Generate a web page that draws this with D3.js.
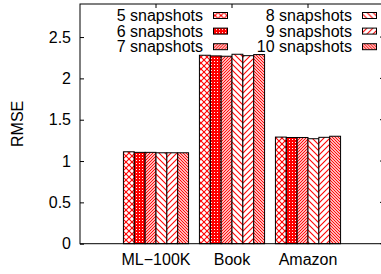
<!DOCTYPE html>
<html>
<head>
<meta charset="utf-8">
<script src="https://cdn.jsdelivr.net/npm/d3@7"></script>
<style>
  body { margin: 0; background: #fff; }
  svg { display: block; font-family: "Liberation Sans", Arial, sans-serif; }
</style>
</head>
<body>
<svg id="chart" width="381" height="274"></svg>
<script>
// data
var categories = ["ML\u2212100K", "Book", "Amazon"];
var seriesNames = ["5 snapshots", "6 snapshots", "7 snapshots", "8 snapshots", "9 snapshots", "10 snapshots"];
var s5  = [1.112, 2.280, 1.290];
var s6  = [1.105, 2.272, 1.285];
var s7  = [1.105, 2.268, 1.285];
var s8  = [1.100, 2.292, 1.270];
var s9  = [1.100, 2.275, 1.287];
var s10 = [1.100, 2.288, 1.300];
var yTicks = [0, 0.5, 1, 1.5, 2, 2.5];

var series = [s5, s6, s7, s8, s9, s10];

var svg = d3.select("#chart"),
	pLeft = 80, pRight = 384, pTop = 4, pBottom = 243.7,
	fontSize = 16;

var x = d3.scaleLinear().domain([-1, 3]).range([pLeft, pRight]);
var y = d3.scaleLinear().domain([0, 2.9]).range([pBottom, pTop]);
var barW = (x(1) - x(0)) / 7;

// fill patterns, gnuplot style
var defs = svg.append("defs");
function pat(id, size, draw) {
	var p = defs.append("pattern")
		.attr("id", id)
		.attr("patternUnits", "userSpaceOnUse")
		.attr("width", size).attr("height", size);
	p.append("rect").attr("width", size).attr("height", size).attr("fill", "#fff");
	draw(p, size);
}
function lines(p, s, ds) {
	ds.forEach(function (d) {
		p.append("path").attr("d", d).attr("stroke", "#ff0000").attr("stroke-width", 1.1).attr("fill", "none");
	});
}
pat("p0", 6, function (p, s) { lines(p, s, ["M0,0 L6,6", "M6,0 L0,6"]); });
pat("p1", 3, function (p, s) {
	p.append("rect").attr("width", 3).attr("height", 3).attr("fill", "#ff0000");
	p.append("rect").attr("x", 1).attr("y", 1).attr("width", 1).attr("height", 1).attr("fill", "#fff");
});
pat("p2", 3, function (p, s) { lines(p, s, ["M0,3 L3,0", "M-1,1 L1,-1", "M2,4 L4,2"]); });
pat("p3", 6, function (p, s) { lines(p, s, ["M0,0 L6,6", "M-1,5 L1,7", "M5,-1 L7,1"]); });
pat("p4", 6, function (p, s) { lines(p, s, ["M0,6 L6,0", "M-1,1 L1,-1", "M5,7 L7,5"]); });
pat("p5", 3, function (p, s) { lines(p, s, ["M0,0 L3,3", "M-1,2 L1,4", "M2,-1 L4,1"]); });

// bars
series.forEach(function (vals, j) {
	svg.append("g").selectAll("rect")
		.data(vals)
		.enter()
		.append("rect")
		.attr("x", function (d, i) { return x(i) - 3 * barW + j * barW; })
		.attr("y", function (d) { return y(d); })
		.attr("width", barW)
		.attr("height", function (d) { return pBottom - y(d); })
		.attr("fill", "url(#p" + j + ")")
		.attr("stroke", "#000")
		.attr("stroke-width", 1);
});

// frame
svg.append("rect")
	.attr("x", pLeft).attr("y", pTop)
	.attr("width", pRight - pLeft).attr("height", pBottom - pTop)
	.attr("fill", "none").attr("stroke", "#000").attr("stroke-width", 1);

// y axis, ticks inward
var yAxis = d3.axisLeft(y).tickValues(yTicks).tickSizeInner(-4).tickSizeOuter(0).tickPadding(9)
	.tickFormat(d3.format("~g"));
var gy = svg.append("g").attr("transform", "translate(" + pLeft + ",0)").call(yAxis);
gy.select(".domain").remove();
gy.selectAll("text").attr("font-size", fontSize).attr("font-family", null).attr("fill", "#000");

// mirror ticks on the right
svg.append("g").selectAll("line").data(yTicks).enter().append("line")
	.attr("x1", pRight).attr("x2", pRight - 4)
	.attr("y1", function (d) { return y(d); }).attr("y2", function (d) { return y(d); })
	.attr("stroke", "#000");

// x labels and top ticks
svg.append("g").selectAll("text").data(categories).enter().append("text")
	.attr("x", function (d, i) { return x(i); })
	.attr("y", 265)
	.attr("text-anchor", "middle")
	.attr("font-size", fontSize)
	.text(function (d) { return d; });
svg.append("g").selectAll("line").data(categories).enter().append("line")
	.attr("x1", function (d, i) { return x(i); }).attr("x2", function (d, i) { return x(i); })
	.attr("y1", pTop).attr("y2", pTop + 4)
	.attr("stroke", "#000");

// y label
svg.append("text")
	.attr("transform", "translate(23," + (pTop + pBottom) / 2 + ") rotate(-90)")
	.attr("text-anchor", "middle")
	.attr("font-size", fontSize)
	.text("RMSE");

// legend, two columns
var legend = svg.append("g").selectAll("g").data(seriesNames).enter().append("g")
	.attr("transform", function (d, i) {
		var col = Math.floor(i / 3), row = i % 3;
		return "translate(" + (col ? 352 : 203) + "," + (15.5 + row * 15.6) + ")";
	});
legend.append("text")
	.attr("x", 0).attr("y", 5.6)
	.attr("text-anchor", "end")
	.attr("font-size", fontSize)
	.text(function (d) { return d; });
legend.append("rect")
	.attr("x", 10.5).attr("y", -3)
	.attr("width", 14).attr("height", 6)
	.attr("fill", function (d, i) { return "url(#p" + i + ")"; })
	.attr("stroke", "#000");
</script>
</body>
</html>
